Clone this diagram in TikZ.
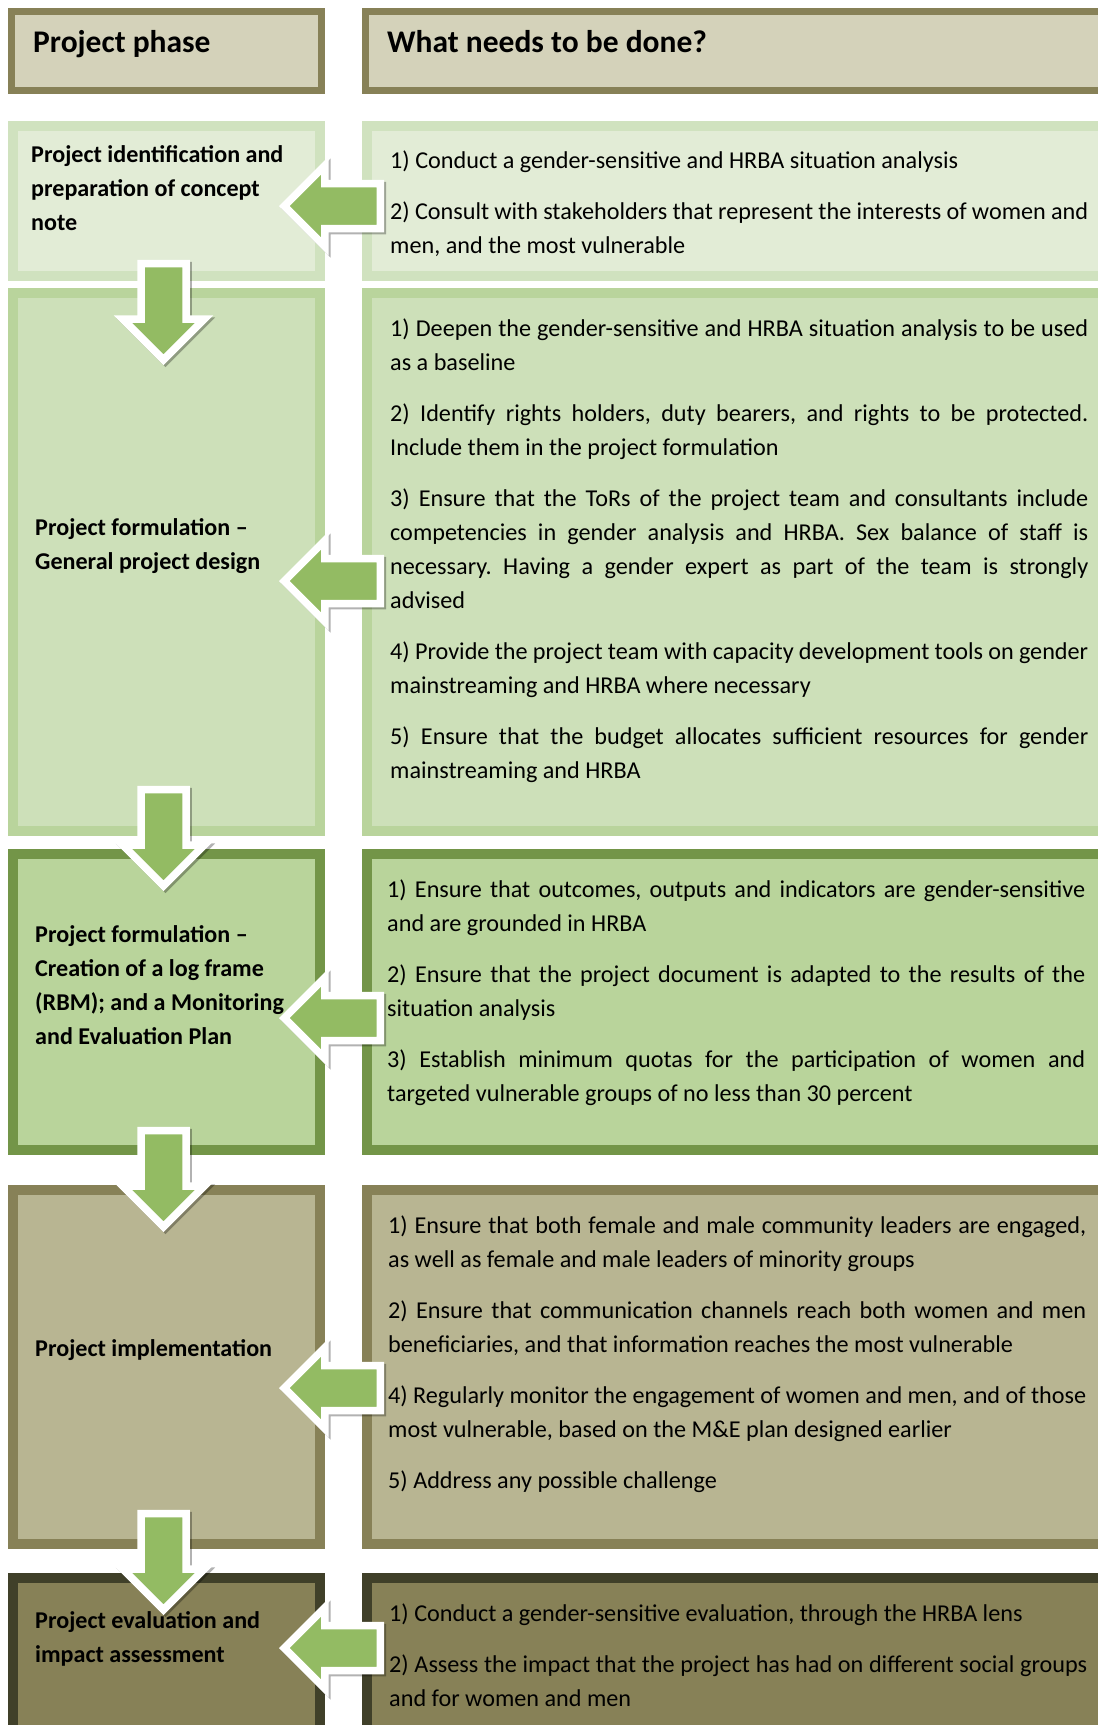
\documentclass[tikz,border=0pt]{standalone}
\usepackage{fontspec}
\setmainfont{Carlito}
\usetikzlibrary{positioning,calc,shapes.arrows,shadows}

\definecolor{hdrline}{HTML}{878157}
\definecolor{hdrfill}{HTML}{D4D2BA}
\definecolor{idline}{HTML}{D0E2BF}
\definecolor{idfill}{HTML}{E2ECD6}
\definecolor{designline}{HTML}{B9D49C}
\definecolor{designfill}{HTML}{CDE0B9}
\definecolor{logline}{HTML}{739548}
\definecolor{logfill}{HTML}{B9D49B}
\definecolor{implline}{HTML}{878157}
\definecolor{implfill}{HTML}{B8B592}
\definecolor{evalline}{HTML}{404029}
\definecolor{evalfill}{HTML}{878157}
\definecolor{arrowgreen}{HTML}{93BB63}

\begin{document}
\frenchspacing
\begin{tikzpicture}[x=1pt, y=-1pt,
    head/.style={rectangle, line width=7pt, draw=hdrline, fill=hdrfill, minimum height=79pt},
    phase/.style={rectangle, line width=10pt, minimum width=307pt},
    todo/.style={rectangle, line width=10pt, minimum width=740pt}]
    \tikzstyle{headtext}=[anchor=west, inner sep=0pt, font=\fontsize{31.5}{36}\selectfont\bfseries]
    \tikzstyle{phasetext}=[anchor=west, inner sep=0pt, align=left, font=\fontsize{24.1}{34}\selectfont\bfseries]
    \tikzstyle{todotext}=[anchor=north west, inner sep=0pt, text width=698pt, align=justify,
        font=\fontsize{24.2}{34}\selectfont, execute at begin node={\setlength{\parskip}{17pt}\tolerance=10000}]
    \tikzstyle{blockarrow}=[single arrow, anchor=tip, draw=white, line width=7.5pt, fill=arrowgreen,
        single arrow head extend=18pt, minimum height=96pt,
        drop shadow={shadow xshift=2pt, shadow yshift=-2pt, opacity=0.3, draw=black, line width=7.5pt}]
    \tikzstyle{downarrow}=[blockarrow, shape border rotate=270, inner xsep=18.75pt, inner ysep=0pt]
    \tikzstyle{leftarrow}=[blockarrow, shape border rotate=180, inner xsep=0pt, inner ysep=18.75pt]

      \useasboundingbox (0,0) rectangle (1098,1725);
      \clip (0,0) rectangle (1098,1725);

      % header row
      \node[head, minimum width=310pt] (hl) at (166.5,51) {};
      \node[head, minimum width=740pt] (hr) [right=37pt of hl] {};

      % phases on the left
      \node[phase, draw=idline, fill=idfill, minimum height=150pt] (p1) [below=27pt of hl] {};
      \node[phase, draw=designline, fill=designfill, minimum height=538pt] (p2) [below=7pt of p1] {};
      \node[phase, draw=logline, fill=logfill, minimum height=296pt] (p3) [below=13pt of p2] {};
      \node[phase, draw=implline, fill=implfill, minimum height=354pt] (p4) [below=30pt of p3] {};
      \node[phase, draw=evalline, fill=evalfill, minimum height=152pt] (p5) [below=24pt of p4] {};

      % what needs to be done
      \node[todo, draw=idline, fill=idfill, minimum height=150pt] (r1) [right=37pt of p1] {};
      \node[todo, draw=designline, fill=designfill, minimum height=538pt] (r2) [right=37pt of p2] {};
      \node[todo, draw=logline, fill=logfill, minimum height=296pt] (r3) [right=37pt of p3] {};
      \node[todo, draw=implline, fill=implfill, minimum height=354pt] (r4) [right=37pt of p4] {};
      \node[todo, draw=evalline, fill=evalfill, minimum height=152pt] (r5) [right=37pt of p5] {};

      \node[headtext] (hlt) at ($(hl.west)+(25,-7)$) {Project phase};
      \node[headtext] (hrt) at ($(hr.west)+(25,-9)$) {What needs to be done?};

      \node[phasetext] (t1) at ($(p1.west)+(23,-13)$) {Project identification and\\preparation of concept\\note};
      \node[phasetext] (t2) at ($(p2.west)+(27,-16)$) {Project formulation --\\General project design};
      \node[phasetext] (t3) at ($(p3.west)+(27,-17)$) {Project formulation --\\Creation of a log frame\\(RBM); and a Monitoring\\and Evaluation Plan};
      \node[phasetext] (t4) at ($(p4.west)+(27,-17)$) {Project implementation};
      \node[phasetext] (t5) at ($(p5.west)+(27,-15)$) {Project evaluation and\\impact assessment};

      \node[todotext] (s1) at ($(r1.north west)+(28,30)$) {1) Conduct a gender-sensitive and HRBA situation analysis\par
        2) Consult with stakeholders that represent the interests of women and\linebreak men, and the most vulnerable};
      \node[todotext] (s2) at ($(r2.north west)+(28,31)$) {1) Deepen the gender-sensitive and HRBA situation analysis to be used\linebreak as a baseline\par
        2) Identify rights holders, duty bearers, and rights to be protected.\linebreak Include them in the project formulation\par
        3) Ensure that the ToRs of the project team and consultants include\linebreak competencies in gender analysis and HRBA. Sex balance of staff is\linebreak necessary. Having a gender expert as part of the team is strongly\linebreak advised\par
        4) Provide the project team with capacity development tools on gender\linebreak mainstreaming and HRBA where necessary\par
        5) Ensure that the budget allocates sufficient resources for gender\linebreak mainstreaming and HRBA};
      \node[todotext] (s3) at ($(r3.north west)+(25,31)$) {1) Ensure that outcomes, outputs and indicators are gender-sensitive\linebreak and are grounded in HRBA\par
        2) Ensure that the project document is adapted to the results of the\linebreak situation analysis\par
        3) Establish minimum quotas for the participation of women and\linebreak targeted vulnerable groups of no less than 30 percent};
      \node[todotext] (s4) at ($(r4.north west)+(26,31)$) {1) Ensure that both female and male community leaders are engaged,\linebreak as well as female and male leaders of minority groups\par
        2) Ensure that communication channels reach both women and men\linebreak beneficiaries, and that information reaches the most vulnerable\par
        4) Regularly monitor the engagement of women and men, and of those\linebreak most vulnerable, based on the M\&E plan designed earlier\par
        5) Address any possible challenge};
      \node[todotext] (s5) at ($(r5.north west)+(27,31)$) {1) Conduct a gender-sensitive evaluation, through the HRBA lens\par
        2) Assess the impact that the project has had on different social groups\linebreak and for women and men};

      % arrows
      \node[downarrow] (d12) at ($(p2.north)+(-3,77)$) {};
      \node[downarrow] (d23) at ($(p3.north)+(-3,42)$) {};
      \node[downarrow] (d34) at ($(p4.north)+(-3,47)$) {};
      \node[downarrow] (d45) at ($(p5.north)+(-3,42)$) {};
      \node[leftarrow] (a1) at ($(p1.east)+(-46,5)$) {};
      \node[leftarrow] (a2) at ($(p2.east)+(-46,19)$) {};
      \node[leftarrow] (a3) at ($(p3.east)+(-46,16)$) {};
      \node[leftarrow] (a4) at ($(p4.east)+(-46,21)$) {};
      \node[leftarrow] (a5) at ($(p5.east)+(-46,-6)$) {};
\end{tikzpicture}
\end{document}
